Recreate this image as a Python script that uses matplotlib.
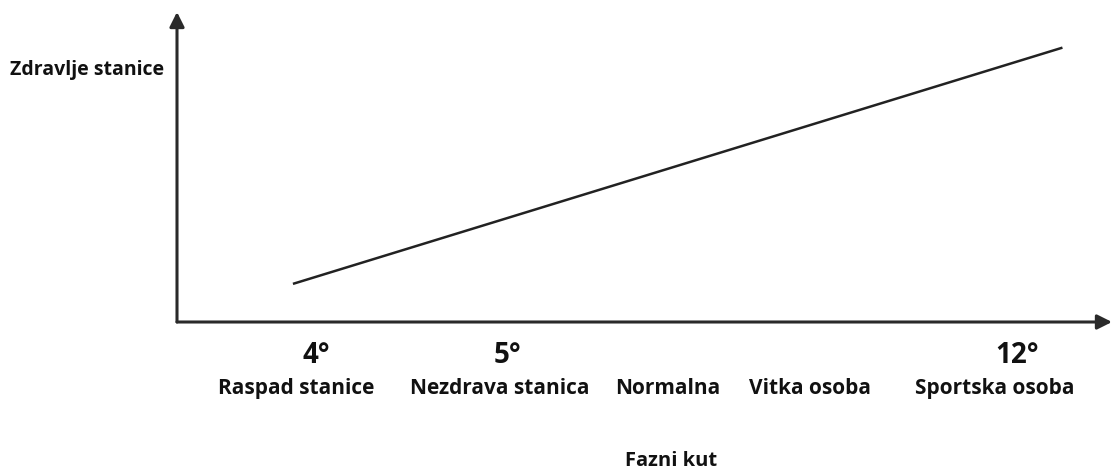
import matplotlib
matplotlib.use("Agg")
import matplotlib.pyplot as plt

# phase angle (x) vs cell health (y), arbitrary 0-10 units
line_x = [1.24, 9.47]
line_y = [1.23, 8.85]
deg_pos = [1.49, 3.53, 8.98]
deg_labels = ["4°", "5°", "12°"]
cat_pos = [1.28, 3.45, 5.25, 6.77, 8.75]
cat_labels = ["Raspad stanice", "Nezdrava stanica", "Normalna", "Vitka osoba", "Sportska osoba"]

plt.rcParams["font.family"] = ["Open Sans", "DejaVu Sans"]
fig = plt.figure(figsize=(11.12, 4.69), dpi=100)
ax = fig.add_axes([177 / 1112, (469 - 322) / 469, 935 / 1112, 310 / 469])
ax.set_xlim(0, 10)
ax.set_ylim(0, 10)
ax.axis("off")

ax.plot(line_x, line_y, color="#222222", lw=1.8, solid_capstyle="butt")

arrow = dict(arrowstyle="-|>", color="#2a2a2a", lw=2.2, mutation_scale=22, shrinkA=0, shrinkB=0)
ax.annotate("", xy=(0, 1.0), xytext=(0, 0), xycoords="axes fraction", arrowprops=arrow)
ax.annotate("", xy=(1.0, 0), xytext=(0, 0), xycoords="axes fraction", arrowprops=arrow)

for x, t in zip(deg_pos, deg_labels):
    ax.text(x, -1.07, t, ha="center", va="center", fontsize=20, fontweight="bold", color="#111111")
for x, t in zip(cat_pos, cat_labels):
    ax.text(x, -2.15, t, ha="center", va="center", fontsize=15, fontweight="bold", color="#111111")

fig.text(671 / 1112, 1 - 461 / 469, "Fazni kut", ha="center", va="center",
         fontsize=14.5, fontweight="bold", color="#111111")
fig.text(10 / 1112, 1 - 70 / 469, "Zdravlje stanice", ha="left", va="center",
         fontsize=14, fontweight="bold", color="#111111")

fig.savefig("out.png", dpi=100)
